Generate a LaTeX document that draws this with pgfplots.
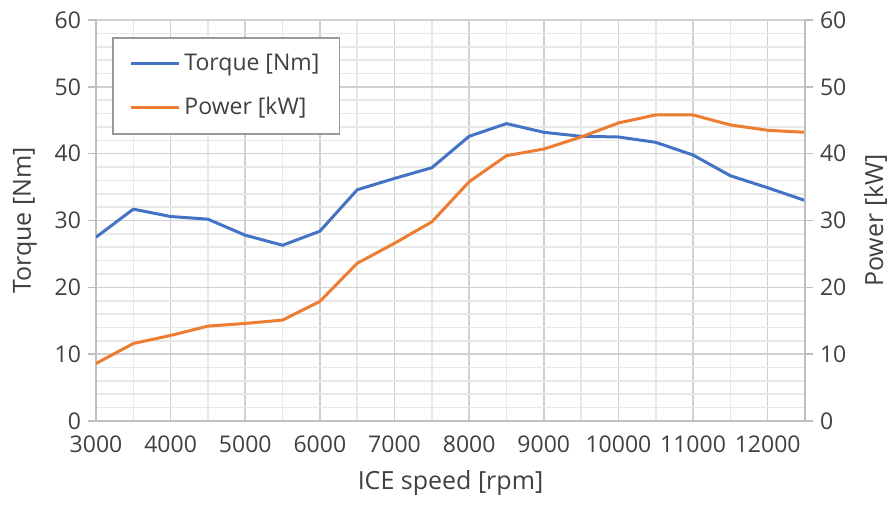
\documentclass[border=0pt]{standalone}
\usepackage{fontspec}
\setmainfont{Open Sans}
\usepackage{pgfplots}
\pgfplotsset{compat=1.18}
\definecolor{cblue}{HTML}{4472C4}
\definecolor{corange}{HTML}{ED7D31}
\definecolor{gmaj}{HTML}{D0D0D0}
\definecolor{gmin}{HTML}{E8E8E8}
\definecolor{axc}{HTML}{BFBFBF}
\definecolor{txt}{HTML}{404040}
\begin{document}
\begin{tikzpicture}
\pgfplotsset{
  base/.style={
    scale only axis, width=354.5pt, height=200.5pt,
    at={(0,0)}, anchor=south west,
    xmin=3000, xmax=12500, ymin=0, ymax=60,
    ytick={0,10,...,60},
    scaled ticks=false,
    /pgf/number format/assume math mode=true,
    ticklabel style={font=\fontsize{11.5}{13}\selectfont, text=txt},
    label style={font=\fontsize{12.5}{14}\selectfont, text=txt},
    axis line style={axc, line width=0.8pt},
    tick style={axc, line width=0.8pt},
    major tick length=4pt,
  }
}
\begin{axis}[base,
  axis x line*=bottom, axis y line*=left,
  xtick={3000,4000,...,12000},
  minor xtick={3500,4500,...,12500},
  minor ytick={2,4,...,58},
  /pgf/number format/1000 sep={},
  grid=both,
  major grid style={gmaj, line width=0.8pt},
  minor grid style={gmin, line width=0.8pt},
  minor tick length=0pt,
  tick align=outside,
  xtick style={draw=none},
  xlabel={ICE speed [rpm]},
  ylabel={Torque [Nm]},
  xlabel style={yshift=-2pt},
  ylabel style={yshift=2pt},
  legend style={at={(rel axis cs:0.023,0.957)}, anchor=north west,
    draw=gray!80, line width=0.8pt, fill=white,
    font=\fontsize{11.5}{13}\selectfont, text=txt,
    inner xsep=8pt, inner ysep=6pt, row sep=8pt},
  legend cell align=left,
  legend image code/.code={\draw[#1, line width=1.5pt] (0cm,0cm) -- (0.85cm,0cm);},
]
\addplot[cblue, line width=1.5pt] coordinates {
(3000,27.5) (3500,31.7) (4000,30.6) (4500,30.2) (5000,27.8) (5500,26.3)
(6000,28.4) (6500,34.6) (7000,36.3) (7500,37.9) (8000,42.6) (8500,44.5)
(9000,43.2) (9500,42.6) (10000,42.5) (10500,41.7) (11000,39.8) (11500,36.7)
(12000,34.9) (12500,33.0)};
\addlegendentry{Torque [Nm]}
\addplot[corange, line width=1.5pt] coordinates {
(3000,8.6) (3500,11.6) (4000,12.8) (4500,14.2) (5000,14.6) (5500,15.1)
(6000,17.9) (6500,23.6) (7000,26.6) (7500,29.8) (8000,35.8) (8500,39.7)
(9000,40.7) (9500,42.5) (10000,44.6) (10500,45.8) (11000,45.8) (11500,44.3)
(12000,43.5) (12500,43.2)};
\addlegendentry{Power [kW]}
\end{axis}
\begin{axis}[base,
  axis x line=none, axis y line*=right,
  tick align=outside,
  ylabel={Power [kW]},
  ylabel style={yshift=-2pt},
]
\end{axis}
\path (-48pt,-45pt) rectangle (399pt,210.5pt);
\end{tikzpicture}
\end{document}
